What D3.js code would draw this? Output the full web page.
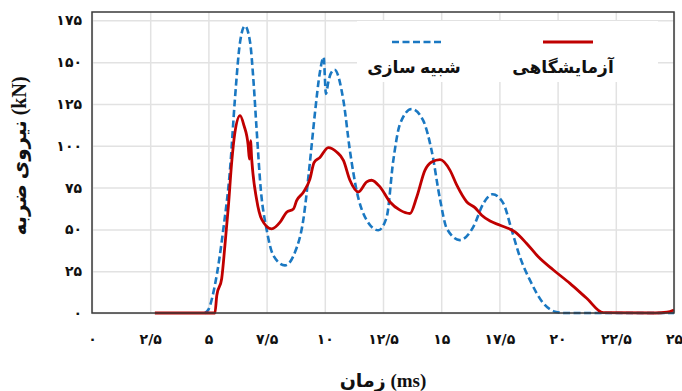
<!DOCTYPE html>
<html>
<head>
<meta charset="utf-8" />
<title>نیروی ضربه</title>
<script src="https://d3js.org/d3.v7.min.js"></script>
<style>
  body { margin: 0; background: #ffffff; }
  text { font-family: "Liberation Serif", "DejaVu Sans", serif; font-weight: bold; fill: #111; }
</style>
</head>
<body>

<svg id="viz"></svg>

<script>

// data
var xTicks = [0, 2.5, 5, 7.5, 10, 12.5, 15, 17.5, 20, 22.5, 25];
var yTicks = [0, 25, 50, 75, 100, 125, 150, 175];

// simulation (blue dashed)
var simTime  = [4.85, 5.0, 5.28, 5.64, 5.93, 6.14, 6.36, 6.57, 6.79, 6.93, 7.07, 7.25, 7.5, 7.79, 8.29, 8.72, 9.08, 9.36, 9.58, 9.79, 9.95, 10.05, 10.15, 10.25, 10.42, 10.8, 11.08, 11.37, 11.8, 12.3, 12.66, 12.94, 13.23, 13.73, 14.23, 14.59, 14.95, 15.24, 15.8, 16.38, 16.81, 17.21, 17.67, 18.03, 18.38, 18.81, 19.39, 19.89, 20.3, 25];
var simForce = [0, 2, 16.7, 50, 86, 128, 162, 171.7, 162, 140, 110, 74, 50, 34.4, 28.5, 36.4, 56, 90, 120, 144, 153, 131, 138, 143, 145.5, 127, 97, 73, 55.5, 49.5, 57.5, 91, 113, 122, 115, 97, 68, 50.5, 43.6, 51.5, 65.5, 71, 65.5, 49.5, 33.6, 19.7, 5.8, 0.8, 0, 0];

// experiment (red solid)
var expTime  = [2.7, 5.28, 5.36, 5.57, 5.71, 5.86, 6.0, 6.14, 6.36, 6.53, 6.71, 6.76, 6.81, 6.86, 7.07, 7.29, 7.72, 8.08, 8.36, 8.65, 8.79, 9.08, 9.36, 9.54, 9.79, 10.15, 10.51, 10.8, 11.08, 11.44, 11.8, 12.01, 12.37, 12.8, 13.23, 13.66, 13.95, 14.3, 14.59, 14.95, 15.38, 15.67, 16.1, 16.45, 16.74, 17.1, 17.53, 18.17, 18.67, 19.17, 19.82, 20.53, 21.25, 21.96, 24.2, 24.7, 25];
var expForce = [0, 0, 10.5, 20.5, 40.4, 64, 90, 108, 118, 112, 100, 92, 103, 92, 68, 56, 50.3, 54.3, 60.3, 62.2, 67.2, 72.2, 80.1, 90, 93, 98.9, 96.3, 91.3, 79.4, 72.4, 78.4, 79.4, 75.4, 66.4, 61.5, 59.5, 69.4, 85.3, 90.3, 91.7, 85.3, 76.4, 66.4, 63, 58.5, 55, 52.5, 48.5, 41.6, 33.6, 25.7, 17.7, 8.8, 0.2, 0, 0.5, 1.8];

var legendNames = ["شبیه سازی", "آزمایشگاهی"];

var width = 682, height = 391;
var plotL = 92, plotR = 674, plotT = 12, plotB = 313;

// persian digits, "/" as decimal mark
function fa(v) {
  return String(v).replace(/\d/g, function(c) { return "۰۱۲۳۴۵۶۷۸۹"[+c]; }).replace(".", "/");
}

var svg = d3.select("#viz")
  .attr("width", width)
  .attr("height", height);

var xScale = d3.scaleLinear().domain([0, 25]).range([plotL, plotR]);
var yScale = d3.scaleLinear().domain([0, 180]).range([plotB, plotT]);

//grid
var gx = svg.append("g")
  .attr("transform", "translate(0," + plotB + ")")
  .call(d3.axisBottom(xScale).tickValues(xTicks).tickSize(-(plotB - plotT)).tickFormat(""));
var gy = svg.append("g")
  .attr("transform", "translate(" + plotL + ",0)")
  .call(d3.axisLeft(yScale).tickValues(yTicks).tickSize(-(plotR - plotL)).tickFormat(""));
[gx, gy].forEach(function(g) {
  g.select(".domain").remove();
  g.selectAll("line").attr("stroke", "#e2e2e2").attr("stroke-width", 1.5);
});

//legend background hides grid
svg.append("rect")
  .attr("x", 357).attr("y", 21)
  .attr("width", 301).attr("height", 61)
  .attr("fill", "#ffffff");

//curves
var line = d3.line()
  .x(function(d) { return xScale(d[0]); })
  .y(function(d) { return yScale(d[1]); })
  .curve(d3.curveMonotoneX);

svg.append("path")
  .datum(simTime.map(function(t, i) { return [t, simForce[i]]; }))
  .attr("d", line)
  .attr("fill", "none")
  .attr("stroke", "#1a78c2")
  .attr("stroke-width", 2.6)
  .attr("stroke-dasharray", "7,3.5");

svg.append("path")
  .datum(expTime.map(function(t, i) { return [t, expForce[i]]; }))
  .attr("d", line)
  .attr("fill", "none")
  .attr("stroke", "#c00000")
  .attr("stroke-width", 2.8)
  .attr("stroke-linejoin", "round");

//frame
svg.append("rect")
  .attr("x", plotL).attr("y", plotT)
  .attr("width", plotR - plotL).attr("height", plotB - plotT)
  .attr("fill", "none")
  .attr("stroke", "#3a3a3a")
  .attr("stroke-width", 1.5);

//tick labels
var ax = svg.append("g")
  .attr("transform", "translate(0," + plotB + ")")
  .call(d3.axisBottom(xScale).tickValues(xTicks).tickSize(0).tickPadding(21).tickFormat(fa));
var ay = svg.append("g")
  .attr("transform", "translate(" + plotL + ",0)")
  .call(d3.axisLeft(yScale).tickValues(yTicks).tickSize(0).tickPadding(10).tickFormat(fa));
[ax, ay].forEach(function(g) {
  g.select(".domain").remove();
  g.selectAll("text")
    .style("font-family", "'DejaVu Sans', sans-serif")
    .style("font-size", "14px")
    .style("font-weight", "bold")
    .attr("fill", "#111");
});

//axis titles
svg.append("text")
  .attr("x", (plotL + plotR) / 2)
  .attr("y", 387)
  .attr("text-anchor", "middle")
  .style("font-size", "19px")
  .text("زمان (ms)");

svg.append("text")
  .attr("transform", "translate(26,156) rotate(-90)")
  .attr("text-anchor", "middle")
  .style("font-size", "20px")
  .text("نیروی ضربه (kN)");

//legend
svg.append("line")
  .attr("x1", 392).attr("x2", 442).attr("y1", 42).attr("y2", 42)
  .attr("stroke", "#1a78c2").attr("stroke-width", 2.6)
  .attr("stroke-dasharray", "7,3.5");
svg.append("line")
  .attr("x1", 543).attr("x2", 593).attr("y1", 42).attr("y2", 42)
  .attr("stroke", "#c00000").attr("stroke-width", 2.8);

svg.append("text")
  .attr("x", 414).attr("y", 73)
  .attr("text-anchor", "middle")
  .style("font-size", "17px")
  .text(legendNames[0]);
svg.append("text")
  .attr("x", 563).attr("y", 73)
  .attr("text-anchor", "middle")
  .style("font-size", "17px")
  .text(legendNames[1]);

</script>
</body>
</html>
